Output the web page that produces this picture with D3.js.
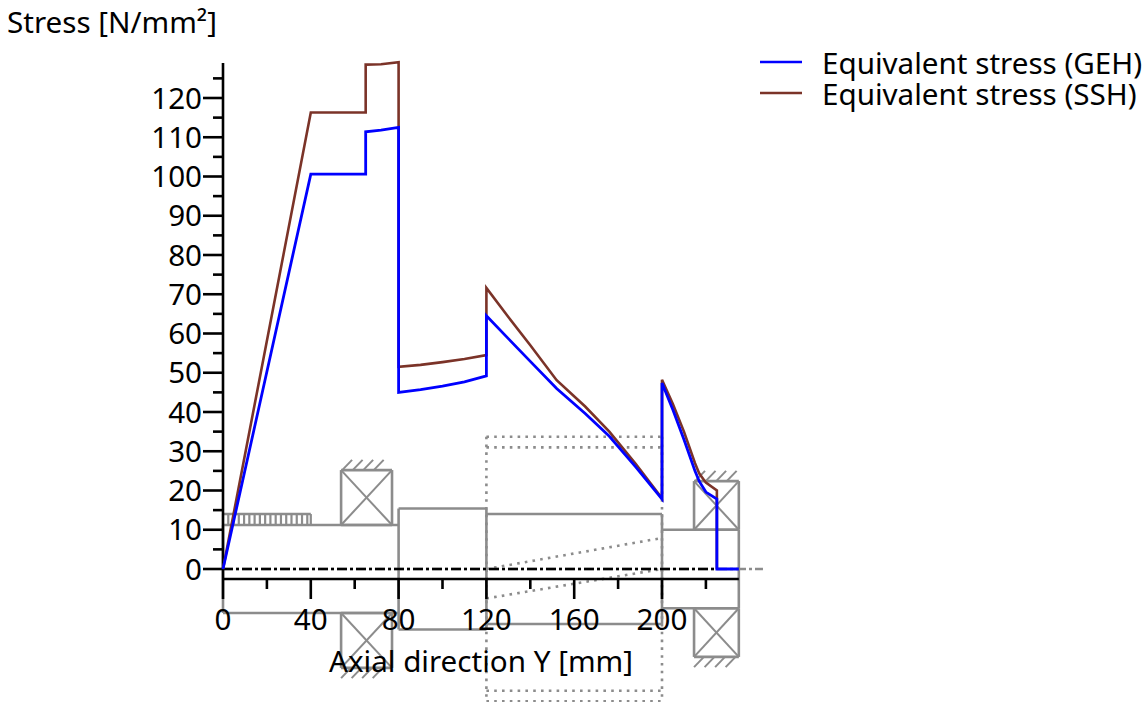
<!DOCTYPE html>
<html>
<head>
<meta charset="utf-8">
<script src="https://cdnjs.cloudflare.com/ajax/libs/d3/7.8.5/d3.min.js"></script>
<style>
html, body { margin: 0; padding: 0; background: #fff; }
text { font-family: "Noto Sans", sans-serif; fill: #000; }
</style>
</head>
<body>
<div id="chart"></div>
<script>
// stress curves, [axial position mm, stress N/mm2]
var gehData = [[0,0],[40,100.6],[65,100.6],[65,111.4],[72,111.8],[80,112.5],[80,45],[90,45.7],[100,46.6],[110,47.7],[120,49.2],
    [120,64.5],[130,58.7],[140,52.9],[152,46],[165,39.6],[176,33.8],[188,26],[200,17.8],
    [200,47.4],[205,40.5],[210,33],[215,25],[217,22.3],[220,19.6],[225,17.8],[225,0],[235,0]];
var sshData = [[0,0],[40,116.3],[65,116.3],[65,128.5],[72,128.6],[80,129.1],[80,51.5],[90,52],[100,52.7],[110,53.5],[120,54.5],
    [120,71.6],[130,64.2],[140,57],[152,48.1],[165,41.4],[176,35],[188,26.8],[200,18],
    [200,48.2],[205,42],[210,35],[215,27],[217,24.3],[220,22],[225,20],[225,0]];

var xTicks = [0,40,80,120,160,200];
var xMinor = [20,60,100,140,180,220];
var yTicks = [0,10,20,30,40,50,60,70,80,90,100,110,120];
var yMinor = [5,15,25,35,45,55,65,75,85,95,105,115,125];
var legendNames = ["Equivalent stress (GEH)", "Equivalent stress (SSH)"];
var legendColors = ["#0000ff", "#7b3328"];

// shaft sketch behind the curves
var shaftSegments = [[0,80,11.2],[80,120,15.4],[120,200,14],[200,235,10]];
var keyTeeth = [0,2.4,4.8,7.2,9.6,12,14.4,16.8,19.2,21.6,24,26.4,28.8,31.2,33.6,36,38.4,40];

var width = 1145, height = 702;
var margin = {left:223, zeroY:569};

var x = d3.scaleLinear().domain([0,200]).range([margin.left, 662]);
var y = d3.scaleLinear().domain([0,120]).range([margin.zeroY, 98]);

var svg = d3.select("#chart").append("svg")
    .attr("width", width)
    .attr("height", height)
    .style("display", "block");

var grey = "#8c8c8c";
var sketch = svg.append("g")
    .attr("fill", "none")
    .attr("stroke", grey)
    .attr("stroke-width", 2.6);

function segment(g, x1, v1, x2, v2) {
    return g.append("line")
        .attr("x1", x(x1)).attr("y1", y(v1))
        .attr("x2", x(x2)).attr("y2", y(v2));
}

// shaft outline
shaftSegments.forEach(function(s) {
    segment(sketch, s[0], s[2], s[1], s[2]);
    segment(sketch, s[0], -s[2], s[1], -s[2]);
});
segment(sketch, 80, 15.4, 80, -15.4);
segment(sketch, 120, 15.4, 120, -15.4);
segment(sketch, 200, 14, 200, -14);
segment(sketch, 235, 10, 235, -10);
segment(sketch, 0, 11.2, 0, -11.2);

// keyway
segment(sketch, 0, 14, 40, 14);
keyTeeth.forEach(function(k) { segment(sketch, k, 11.2, k, 14).attr("stroke-width", 2.2); });

// bearings
function bearing(x0, x1, inner, outer, sign) {
    var a = sign * inner, b = sign * outer;
    segment(sketch, x0, a, x1, a);
    segment(sketch, x0, b, x1, b);
    segment(sketch, x0, a, x0, b);
    segment(sketch, x1, a, x1, b);
    segment(sketch, x0, a, x1, b).attr("stroke-width", 2);
    segment(sketch, x0, b, x1, a).attr("stroke-width", 2);
    [0,1,2,3].forEach(function(i) {
        var hx = x0 + i * 4.8 + (sign > 0 ? 0.5 : 4.5);
        segment(sketch, hx, b, hx + (sign > 0 ? 4.5 : -4.5), b + sign * 2.6).attr("stroke-width", 2);
    });
}
bearing(53.8, 77, 11.2, 25.2, 1);
bearing(53.8, 77, 11.2, 25.2, -1);
bearing(214.6, 235, 10, 22.4, 1);
bearing(214.6, 235, 10, 22.4, -1);

// gear, dotted
var dotted = svg.append("g")
    .attr("fill", "none")
    .attr("stroke", grey)
    .attr("stroke-width", 2.6)
    .attr("stroke-dasharray", "2.6,5.2");
[33.7, 31, -31, -33.7].forEach(function(v) { segment(dotted, 120, v, 200, v); });
segment(dotted, 120, 33.7, 120, -33.7);
segment(dotted, 200, 33.7, 200, -33.7);
segment(dotted, 120, 0, 200, 7.9);
segment(dotted, 120, -7.5, 200, 0);

// centre line
segment(svg, 0, 0, 246, 0)
    .attr("stroke", grey).attr("stroke-width", 2.4).attr("stroke-dasharray", "10,3,3,3");
segment(svg, 0, 0, 225, 0)
    .attr("stroke", "#000").attr("stroke-width", 2.4).attr("stroke-dasharray", "10,3,3,3");

// axes
var axisY = 579;
var xAxis = svg.append("g").attr("stroke", "#000").attr("stroke-width", 2.6);
xAxis.append("line").attr("x1", x(0)).attr("x2", x(235)).attr("y1", axisY).attr("y2", axisY);
xAxis.selectAll(".major").data(xTicks).enter().append("line")
    .attr("class", "major")
    .attr("x1", x).attr("x2", x)
    .attr("y1", axisY).attr("y2", axisY + 20);
xAxis.selectAll(".minor").data(xMinor).enter().append("line")
    .attr("class", "minor")
    .attr("x1", x).attr("x2", x)
    .attr("y1", axisY).attr("y2", axisY + 10);

var yAxis = svg.append("g").attr("stroke", "#000").attr("stroke-width", 2.6);
yAxis.append("line").attr("x1", x(0)).attr("x2", x(0)).attr("y1", 63).attr("y2", axisY);
yAxis.selectAll(".major").data(yTicks).enter().append("line")
    .attr("class", "major")
    .attr("x1", x(0) - 20).attr("x2", x(0))
    .attr("y1", y).attr("y2", y);
yAxis.selectAll(".minor").data(yMinor).enter().append("line")
    .attr("class", "minor")
    .attr("x1", x(0) - 10).attr("x2", x(0))
    .attr("y1", y).attr("y2", y);

// curves
var line = d3.line().x(function(d) { return x(d[0]); }).y(function(d) { return y(d[1]); });
svg.append("path").datum(sshData)
    .attr("d", line).attr("fill", "none")
    .attr("stroke", legendColors[1]).attr("stroke-width", 2.6);
svg.append("path").datum(gehData)
    .attr("d", line).attr("fill", "none")
    .attr("stroke", legendColors[0]).attr("stroke-width", 2.8);

// tick labels
var fs = 29.6;
svg.selectAll(".xlab").data(xTicks).enter().append("text")
    .attr("class", "xlab")
    .attr("x", x).attr("y", 630)
    .attr("text-anchor", "middle")
    .style("font-size", fs + "px")
    .text(function(d) { return d; });
svg.selectAll(".ylab").data(yTicks).enter().append("text")
    .attr("class", "ylab")
    .attr("x", 202).attr("y", function(d) { return y(d) + 10.5; })
    .attr("text-anchor", "end")
    .style("font-size", fs + "px")
    .text(function(d) { return d; });

// titles
svg.append("text").attr("x", 7).attr("y", 33).style("font-size", fs + "px").text("Stress [N/mm²]");
svg.append("text").attr("x", 329).attr("y", 672).style("font-size", fs + "px").text("Axial direction Y [mm]");

// legend
legendNames.forEach(function(name, i) {
    var ly = 62 + i * 31;
    svg.append("line").attr("x1", 760).attr("x2", 802).attr("y1", ly).attr("y2", ly)
        .attr("stroke", legendColors[i]).attr("stroke-width", 2.4);
    svg.append("text").attr("x", 822).attr("y", 74 + i * 31).style("font-size", fs + "px").text(name);
});
</script>
</body>
</html>
